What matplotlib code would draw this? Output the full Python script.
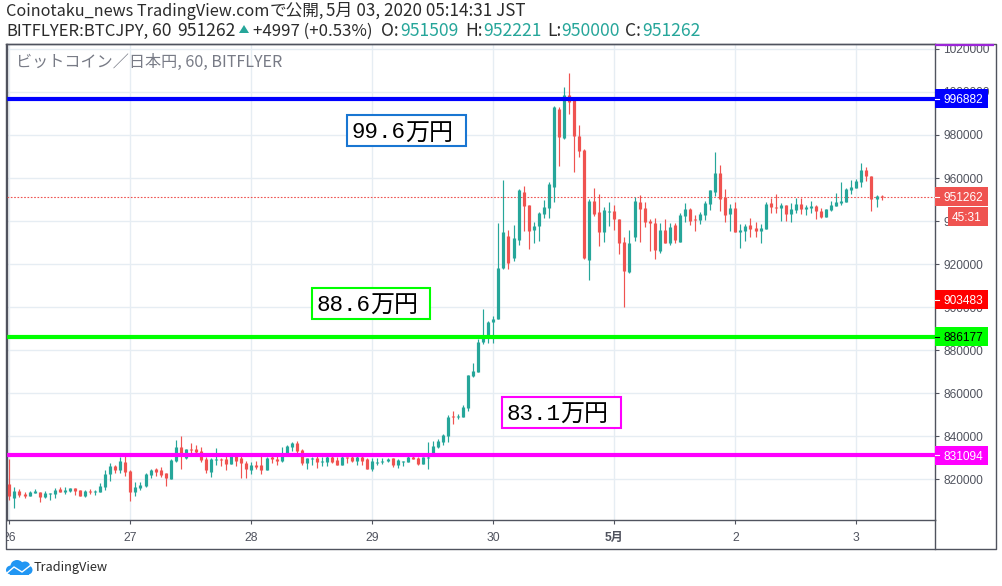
import numpy as np
import matplotlib
matplotlib.use("Agg")
import matplotlib.pyplot as plt
from matplotlib.patches import Rectangle, Polygon, Ellipse
from matplotlib.transforms import blended_transform_factory, Bbox

plt.rcParams['font.family'] = ['Noto Sans CJK JP', 'DejaVu Sans']

#hourly candles (yen)
opens = [817800,811300,814600,813200,812300,813600,814100,811800,813300,813200,
    815500,814100,814600,816000,815000,812300,814600,814100,814100,816400,
    822500,826200,824300,828100,823900,814100,816000,816900,822000,824800,
    824300,822900,820200,828500,835000,829900,834100,834100,833200,829500,
    823400,829000,829500,829500,827100,830900,829900,827600,824300,826700,
    826700,824300,830400,829500,828500,831800,835000,836900,833600,827600,
    829500,829900,828100,828100,830500,829000,826700,830500,830500,828500,
    830200,829300,824800,827400,827900,828500,829800,826700,828100,827900,
    830500,829900,827100,830200,832100,835000,837200,840200,849300,849100,
    849000,853300,868100,869900,883900,887100,893200,894700,918100,933000,
    922800,931200,953500,947400,935800,937700,943200,946000,955800,992100,
    978600,998600,996700,979500,973000,921900,949300,944200,934900,944200,
    944600,940900,930200,916300,932600,948800,946000,940000,939100,926000,
    935800,929800,938100,930200,942300,945600,940900,940500,942800,947900,
    953500,962300,951200,943300,946000,934900,935300,938100,936700,935300,
    936300,948400,946500,946000,947400,943300,945100,947900,945600,946000,
    947000,944700,941900,945100,947000,948400,948800,954400,955300,958100,
    963700,960900,950200,951509]
highs = [829500,816300,815500,814100,814600,815500,814100,814600,813600,816000,
    816400,816400,816000,816000,815000,815000,815500,815000,818300,824300,
    827600,826700,830200,831500,824300,818800,818800,822900,824800,825300,
    825700,822900,829500,838300,840200,834100,836900,836000,835000,830400,
    829900,834600,829900,831800,831300,831300,831300,828500,828100,828500,
    831800,830400,831300,831300,835000,836000,837400,837800,834100,829900,
    830400,831300,830400,831300,831800,830500,832100,830500,831300,831300,
    831300,829800,829800,829800,830100,829800,829800,829500,828700,831300,
    830900,830500,830500,837200,837800,838600,840900,850100,851800,850400,
    854300,868500,874100,885300,899200,893500,895800,939100,959100,935800,
    938100,954900,956300,947400,939500,944200,949800,958100,993500,993000,
    1002300,1008800,996700,984600,973500,950200,955300,952500,946500,948800,
    947400,940900,932600,935800,951200,952100,948800,940900,941400,939100,
    940900,939100,939100,943700,948400,946000,942800,944200,949300,954400,
    972100,966000,954900,947900,948800,938600,938600,941400,939500,938600,
    948800,950700,952600,948400,947400,948400,950700,950700,947400,949300,
    947400,946000,945600,949300,953000,958100,955300,959100,959500,967000,
    965100,960900,952100,952221]
lows = [810400,806700,811800,811300,812300,813600,809500,811300,810400,811300,
    814100,813200,814100,812700,812300,811800,813200,812700,814100,815000,
    819200,822900,822900,821600,809900,812300,815000,816400,820600,821600,
    821100,816900,820200,828100,824800,829500,832200,832200,828100,822900,
    821100,826700,826200,824300,827100,826200,820600,820600,822500,824800,
    822500,824300,827600,826700,828100,831300,833200,832200,826700,824800,
    826700,825300,826200,826200,827400,826500,826700,827400,828200,826700,
    826700,824800,824000,826700,827000,828200,825900,825400,826400,827900,
    829300,826700,827100,824800,831300,834400,835800,837400,845700,848100,
    849000,851900,867600,869900,882800,883200,883200,894300,917700,917700,
    921400,928800,935300,927000,929800,930700,941400,941400,948800,965600,
    978100,989700,962800,969800,922300,912600,942300,928400,930200,937700,
    935800,924600,900000,915800,930700,930200,937200,926000,922300,925100,
    929800,928800,929800,930200,939500,938100,935300,938600,940500,945100,
    951600,944700,939500,935300,934900,927400,930700,932600,932600,929800,
    936300,943700,943700,940000,940000,939500,943700,943300,942800,943700,
    940900,941400,941900,944700,947000,947400,948800,952600,955300,955800,
    958600,944700,946500,950000]
closes = [812400,814600,812700,812300,814100,814600,811800,813600,813600,815000,
    814100,815000,816000,814600,812300,814600,814100,814600,816900,822500,
    826200,824300,828500,823400,814100,816400,817400,822500,824300,823400,
    822000,820600,829000,835000,831300,834100,833600,832700,829000,824300,
    829500,829500,829000,827100,830900,828500,827600,824800,826700,825700,
    824300,829900,829500,828500,831300,835500,836900,833200,827600,829900,
    829900,828100,828500,830400,828200,826700,830500,830100,828700,830200,
    828500,824800,828500,828200,828500,829300,826700,829000,828500,830500,
    829500,827000,830500,830500,835500,837800,840600,849000,848800,849600,
    853600,868500,870400,883900,886300,893200,894600,918100,934900,920500,
    932100,954400,947000,935300,937700,943700,946500,957200,993000,979100,
    998600,995300,979500,972500,922800,949300,943200,934900,945100,944600,
    940900,929800,916700,929800,949300,945600,939500,939100,926500,935800,
    929800,937200,931200,942800,945600,940000,940500,943200,948400,954400,
    962300,950200,942800,946000,934900,935800,937700,936300,935300,936700,
    947900,946500,946000,947400,943300,945600,947900,945600,946500,947000,
    944700,941900,945600,947400,948800,949300,954900,955800,958600,963700,
    960900,950200,951600,951262]

day_ticks = [0, 24, 48, 72, 96, 120, 144, 168]
day_labels = ["26", "27", "28", "29", "30", "5月", "2", "3"]
price_ticks = list(range(820000, 1020001, 20000))

blue_level = 996882
green_level = 886177
magenta_level = 831094
red_level = 903483
last_price = 951262

UP = "#26a69a"
DOWN = "#ef5350"
GRID = "#e6edf3"
FRAME = "#50535e"
W, H = 1002, 586

fig = plt.figure(figsize=(W / 100, H / 100), dpi=100)
ax = fig.add_axes([6.5 / W, (H - 520.3) / H, (935 - 6.5) / W, (520.3 - 44) / H])

o = np.array(opens)
h = np.array(highs)
l = np.array(lows)
c = np.array(closes)
x = np.arange(len(o))
colors = [UP if b >= a else DOWN for a, b in zip(o, c)]

#1 pixel is about 465 yen, keep dojis visible
top = np.maximum(o, c)
bot = np.minimum(o, c)
bot = np.where(top - bot < 465, top - 465, bot)

ax.vlines(x, l, h, colors=colors, linewidth=0.85, zorder=3)
ax.vlines(x, bot, top, colors=colors, linewidth=2.3, zorder=3)

ax.set_xlim(-0.575, 183.6)
ax.set_ylim(800948, 1022277)
ax.grid(True, color=GRID, linewidth=1.0)
ax.set_axisbelow(True)

ax.set_xticks(day_ticks)
ax.set_xticklabels(day_labels, fontsize=8.7, color=FRAME, family=['Liberation Sans', 'Noto Sans CJK JP'])
ax.get_xticklabels()[5].set_fontweight("bold")
ax.set_yticks(price_ticks)
ax.set_yticklabels([str(v) for v in price_ticks], fontsize=8.6, color=FRAME, family='Liberation Sans')
ax.yaxis.tick_right()
ax.tick_params(axis='both', length=3, width=0.8, color=FRAME, pad=3)
ax.tick_params(axis='x', pad=5.5)
for s in ax.spines.values():
    s.set_color(FRAME)
    s.set_linewidth(1.0)
#the 26 is cut by the frame on the left
first = ax.get_xticklabels()[0]
first.set_clip_on(True)
first.set_clip_box(Bbox([[7, 0], [100, 100]]))

#horizontal levels + current price
ax.axhline(blue_level, color="#0000ff", linewidth=3.0, zorder=4)
ax.axhline(green_level, color="#00ff00", linewidth=3.0, zorder=4)
ax.axhline(magenta_level, color="#ff00ff", linewidth=3.0, zorder=4)
ax.axhline(last_price, color=DOWN, linewidth=0.8, linestyle=(0, (1.5, 1.5)), zorder=2.8)

#price tags on the axis
trans = blended_transform_factory(ax.transAxes, ax.transData)
px_to_yen = 20000 / 43.04
axw = 928.5

def tag(level, bg, fg, left=935, offset=0, label=None, text_x=943):
    y = level + offset * px_to_yen
    ax.add_patch(Rectangle(((left - 6.5) / axw, y - 9.5 * px_to_yen), (988 - left) / axw, 19 * px_to_yen,
                           transform=trans, facecolor=bg, edgecolor="none", clip_on=False, zorder=6))
    ax.text((text_x - 6.5) / axw, y, label or str(level), transform=trans, color=fg, fontsize=8.6,
            family='Liberation Sans', va="center_baseline", ha="left", clip_on=False, zorder=7)
    if label is None:
        ax.plot([(935 - 6.5) / axw, (939 - 6.5) / axw], [y, y], transform=trans, color=fg, linewidth=0.8,
                clip_on=False, zorder=7)

tag(blue_level, "#0000ff", "white")
tag(last_price, DOWN, "white")
tag(last_price, DOWN, "white", left=948, offset=-20, label="45:31", text_x=952)
tag(red_level, "#ff0000", "white")
tag(green_level, "#00ff00", "black")
tag(magenta_level, "#ff00ff", "white")

#everything around the chart, in pixels
ov = fig.add_axes([0, 0, 1, 1], zorder=10)
ov.set_xlim(0, W)
ov.set_ylim(H, 0)
ov.axis("off")
ov.patch.set_alpha(0)

ov.plot([6.5, 6.5, 996, 996, 6.5], [44, 549, 549, 44, 44], color=FRAME, linewidth=1.0)
ov.plot([935, 935], [520, 549], color=FRAME, linewidth=1.0)
ov.plot([935, 994.5], [44.5, 44.5], color="#9c27d8", linewidth=1.6, solid_capstyle="butt")

def box(x0, y0, x1, y1, color, num):
    ov.add_patch(Rectangle((x0, y0), x1 - x0, y1 - y0, facecolor="white", edgecolor=color, linewidth=1.5))
    ym = (y0 + y1) / 2
    ov.text(x0 + 4, ym, num, fontsize=16.2, color="black", ha="left", va="center_baseline", family='Liberation Mono')
    ov.text(x0 + 58, ym, "万円", fontsize=17.3, color="black", ha="left", va="center_baseline", family='Noto Sans CJK JP')

box(347.5, 115, 466, 146, "#1976d2", "99.6")
box(312.5, 287.5, 430, 319, "#00ff00", "88.6")
box(502.5, 396.5, 621, 428, "#ff00ff", "83.1")

DARK = "#2b2b2b"
ov.text(6, 11, "Coinotaku_news TradingView.com", fontsize=11.7, color=DARK, va="center")
ov.text(270, 11, "で公開,", fontsize=12.0, color=DARK, va="center")
ov.text(326, 11, "5月 03, 2020 05:14:31 JST", fontsize=12.3, color=DARK, va="center")
ov.text(6, 31, "BITFLYER:BTCJPY,", fontsize=12.0, color=DARK, va="center")
ov.text(152, 31, "60", fontsize=12.6, color=DARK, va="center")
ov.text(177, 31, "951262", fontsize=12.6, color=DARK, va="center")
ov.add_patch(Polygon([[239, 33], [249, 33], [244, 25]], facecolor=UP, edgecolor="none"))
ov.text(253, 31, "+4997 (+0.53%)", fontsize=12.1, color=DARK, va="center")
for xp, txt, col in [(381, "O:", DARK), (400, "951509", UP), (465, "H:", DARK), (483, "952221", UP),
                     (547, "L:", DARK), (561, "950000", UP), (625, "C:", DARK), (642, "951262", UP)]:
    ov.text(xp, 31, txt, fontsize=12.6, color=col, va="center")

ov.text(16, 62, "ビットコイン／日本円, 60, BITFLYER", fontsize=11.6, color="#787b86", va="center")

#logo
LOGO = "#2196f3"
for cx, cy, ew, eh in [(11, 570, 10, 9), (17, 566, 13, 12), (25, 566, 10, 9), (28, 570, 9, 9)]:
    ov.add_patch(Ellipse((cx, cy), ew, eh, facecolor=LOGO, edgecolor="none"))
ov.add_patch(Rectangle((10, 568), 19, 7, facecolor=LOGO, edgecolor="none"))
ov.plot([7, 14, 22, 31], [573, 567, 572, 565], color="white", linewidth=1.0)
ov.text(34, 567.5, "TradingView", fontsize=9.2, color="#2b2b2b", va="center")

fig.savefig("out.png", dpi=100)
